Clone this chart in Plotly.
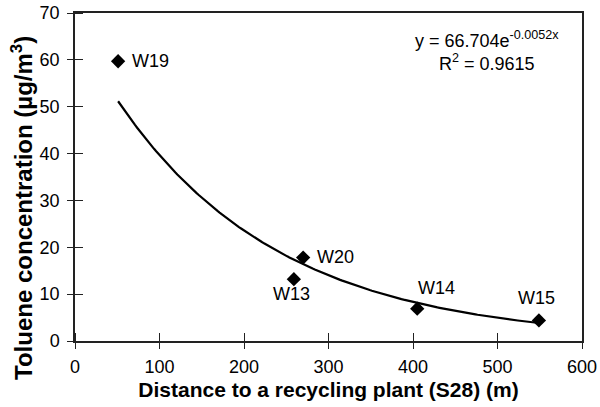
import numpy as np
import plotly.graph_objects as go

# sampling sites
sites = ["W19", "W20", "W13", "W14", "W15"]
distance = [51, 270, 259, 405, 549]
toluene = [59.7, 17.8, 13.2, 6.9, 4.4]

# exponential trendline reported on the chart
coef_a = 66.704
coef_b = -0.0052
r_squared = 0.9615

# label offsets from each point, in pixels
label_dx = [32, 32, -2, 19, -2]
label_dy = [0, 1, -15, 21, 22]

x_fit = np.linspace(min(distance), max(distance), 200)
y_fit = coef_a * np.exp(coef_b * x_fit)

fig = go.Figure()
fig.add_trace(go.Scatter(
    x=x_fit, y=y_fit, mode="lines",
    line=dict(color="black", width=2.2),
    showlegend=False, hoverinfo="skip"
))
fig.add_trace(go.Scatter(
    x=distance, y=toluene, mode="markers",
    marker=dict(symbol="diamond", color="black", size=11),
    showlegend=False
))

for s, xv, yv, dx, dy in zip(sites, distance, toluene, label_dx, label_dy):
    fig.add_annotation(x=xv, y=yv, text=s, showarrow=False, xshift=dx, yshift=dy,
                       font=dict(size=18, color="black"))

fig.add_annotation(
    x=0.813, y=0.883, xref="paper", yref="paper", showarrow=False,
    xanchor="center", yanchor="middle",
    text=f"y = {coef_a}e<sup>{coef_b}x</sup><br>R<sup>2</sup> = {r_squared}",
    font=dict(size=18, color="black"), align="center"
)

# y title sits a bit low in the original, so it is placed as an annotation
fig.add_annotation(
    x=-0.105, y=0.405, xref="paper", yref="paper", showarrow=False,
    xanchor="center", yanchor="middle", textangle=-90,
    text="<b>Toluene concentration (µg/m<sup>3</sup>)</b>",
    font=dict(size=24, color="black")
)

axis_style = dict(
    showgrid=False, zeroline=False, showline=True, linecolor="#222",
    linewidth=1.5, mirror=True, ticks="outside", ticklen=6, automargin=False,
    tickcolor="#222", tickwidth=1.3, tickfont=dict(size=18, color="black")
)

fig.update_layout(
    width=600, height=407,
    margin=dict(l=75, r=18, t=13, b=66),
    plot_bgcolor="white", paper_bgcolor="white",
    font=dict(family="Arial, Liberation Sans", color="black"),
    xaxis=dict(range=[0, 600], dtick=100, ticklabelstandoff=3,
               minor=dict(ticks="inside", ticklen=8, tickwidth=1.3, tickcolor="#222",
                          tick0=0.01, dtick=100),
               title=dict(text="<b>Distance to a recycling plant (S28) (m)</b>",
                          font=dict(size=21), standoff=6), **axis_style),
    yaxis=dict(range=[0, 70], dtick=10, ticklabelstandoff=4,
               minor=dict(ticks="inside", ticklen=8, tickwidth=1.3, tickcolor="#222",
                          tick0=0.001, dtick=10),
               **axis_style),
)

fig.write_html("out.html", config={"displayModeBar": False},
               post_script="document.body.style.margin='0';")
